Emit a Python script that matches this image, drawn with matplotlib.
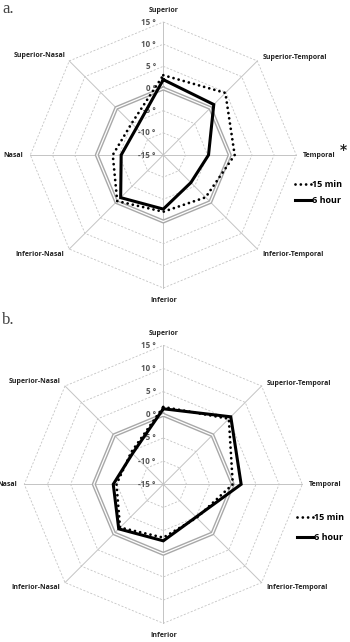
import numpy as np
import matplotlib
matplotlib.use('Agg')
import matplotlib.pyplot as plt
from matplotlib.lines import Line2D

# --- data (degrees) ---
labels = ['Superior', 'Superior-Temporal', 'Temporal', 'Inferior-Temporal',
          'Inferior', 'Inferior-Nasal', 'Nasal', 'Superior-Nasal']
ticks = [15, 10, 5, 0, -5, -10, -15]
baseline = [0, 0, 0, 0, 0, 0, 0, 0]

a_15min = [3.0, 4.8, 1.1, -1.5, -2.2, -0.3, -3.6, -4.9]
a_6hour = [2.0, 1.1, -4.8, -6.2, -2.8, -1.4, -5.5, -6.4]

b_15min = [1.7, 5.0, 0.0, -4.8, -3.5, -1.8, -4.9, -5.2]
b_6hour = [1.3, 5.6, 1.8, -5.0, -2.8, -1.4, -4.2, -5.6]

W, H = 350, 642
fig = plt.figure(figsize=(W / 100, H / 100), dpi=100)
fig.patch.set_facecolor('white')

angles = np.arange(len(labels)) * 2 * np.pi / len(labels)
closed = np.append(angles, angles[0])


def close(v):
    return list(v) + [v[0]]


# label placement: offsets in pixels from the spoke end, and alignment
lab_pos = [((0, 12), 'center'), ((5, 3), 'left'), ((7, 0), 'left'), ((5, -5), 'left'),
           ((0, -12), 'center'), ((-5, -5), 'right'), ((-7, 0), 'right'), ((-4, 5), 'right')]

grid_c = '#c4c4c4'
lab_font = dict(family=['Open Sans', 'DejaVu Sans'], weight='bold', fontsize=5, color='#222222')


def radar(cx, cy, r, s15, s6, leg_xy, leg_space):
    ax = fig.add_axes([(cx - r) / W, (H - cy - r) / H, 2 * r / W, 2 * r / H], projection='polar')
    ax.set_theta_zero_location('N')
    ax.set_theta_direction(-1)
    ax.set_ylim(-15, 15)
    ax.axis('off')

    # octagonal dashed rings and spokes
    for lev in ticks[:-1]:
        ax.plot(closed, [lev] * len(closed), color=grid_c, lw=0.6,
                ls=(0, (2.5, 2)), zorder=1, clip_on=False)
    for t in angles:
        ax.plot([t, t], [-15, 15], color=grid_c, lw=0.7, zorder=1, clip_on=False)

    # tick labels up the Superior spoke
    for v in ticks:
        ax.annotate(f'{v} °', xy=(0, v), xytext=(-5.5, 0), textcoords='offset points',
                    ha='right', va='center', fontsize=5.8, color='#555555',
                    family=['Open Sans', 'DejaVu Sans'], weight='bold', zorder=2)

    # category labels
    for t, name, (off, ha) in zip(angles, labels, lab_pos):
        ax.annotate(name, xy=(t, 15), xytext=(off[0] * 0.72, off[1] * 0.72),
                    textcoords='offset points', ha=ha, va='center', **lab_font)

    # zero reference drawn as a double grey line
    ax.plot(closed, close(baseline), color='#a8a8a8', lw=2.9, zorder=3, clip_on=False)
    ax.plot(closed, close(baseline), color='white', lw=0.9, zorder=3, clip_on=False)

    ax.plot(closed, close(s15), color='black', lw=2.0, ls=(0, (0.01, 1.9)),
            dash_capstyle='round', zorder=4, clip_on=False)
    ax.plot(closed, close(s6), color='black', lw=2.2, solid_joinstyle='miter', zorder=5, clip_on=False)

    handles = [Line2D([], [], color='black', lw=2.0, ls=(0, (0.01, 1.9)), dash_capstyle='round'),
               Line2D([], [], color='black', lw=2.2)]
    fig.legend(handles, ['15 min', '6 hour'], loc='upper left',
               bbox_to_anchor=(leg_xy[0] / W, 1 - leg_xy[1] / H), frameon=False,
               borderpad=0, borderaxespad=0, handlelength=1.8, handletextpad=0.05,
               labelspacing=leg_space, prop=dict(family=['Open Sans', 'DejaVu Sans'],
                                                 weight='bold', size=6.5))
    return ax


radar(163.3, 155, 133, a_15min, a_6hour, (295, 180), 0.75)
radar(163.3, 484.3, 139, b_15min, b_6hour, (297, 513), 1.2)

fig.text(2 / W, 1 - 9 / H, 'a.', ha='left', va='center', fontsize=12,
         family='Liberation Serif', color='#444444')
fig.text(2 / W, 1 - 320 / H, 'b.', ha='left', va='center', fontsize=12,
         family='Liberation Serif', color='#444444')
fig.text(343 / W, 1 - 150 / H, '*', ha='center', va='center', fontsize=10,
         weight='bold', color='#222222')

fig.savefig('out.png', dpi=100, facecolor='white')
